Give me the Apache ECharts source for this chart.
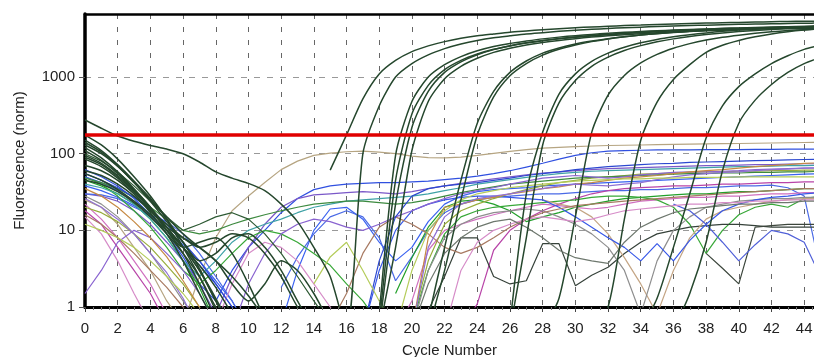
<!DOCTYPE html>
<html>
<head>
<meta charset="utf-8">
<script src="https://cdn.jsdelivr.net/npm/echarts@6/dist/echarts.min.js"></script>
<style>
  html, body { margin: 0; padding: 0; background: #fff; }
  #chart { width: 814px; height: 357px; }
</style>
</head>
<body>
<div id="chart"></div>
<script>
const _ = null;

// cycle numbers (x)
const cycles = [0,1,2,3,4,5,6,7,8,9,10,11,12,13,14,15,16,17,18,19,20,21,22,23,24,25,26,27,28,29,30,31,32,33,34,35,36,37,38,39,40,41,42,43,44,45];
const THRESHOLD = 175;
const xTicks = [0,2,4,6,8,10,12,14,16,18,20,22,24,26,28,30,32,34,36,38,40,42,44];
const yTicks = [1,10,100,1000];

// amplifying wells (dark green)
const dgA = [150,110,72,44,26,14,7,3.2,1.2,0.5, _,_,_,_,_,61,176,520,1100,1650, 2150,2550,2900,3200,3450,3650,3850,4000,4150,4280, 4400,4500,4600,4700,4780,4860,4930,5000,5060,5120, 5170,5220,5270,5310,5350,5380];
const dgB = [275,215,170,145,128,115,100,78,58,48, 41,33,22,13,6,2.5,0.5,100,420,1000, 1500,1950,2350,2700,3000,3250,3450,3650,3800,3950, 4080,4200,4300,4400,4480,4560,4630,4700,4760,4820, 4870,4920,4960,5000,5040,5070];
const dgC = [120,88,58,35,20,10,5,2,0.7,_, _,_,_,_,_,_,_,_,0.8,95, 480,1000,1450,1850,2200,2500,2750,2950,3150,3320, 3470,3600,3720,3830,3930,4020,4100,4180,4250,4320, 4380,4440,4490,4540,4580,4620];
const dgD = [95,75,52,33,19,10,6,7,8,5, 2,0.7,_,_,_,_,_,_,0.6,45, 330,780,1250,1650,2000,2300,2550,2780,2980,3150, 3300,3440,3570,3690,3800,3900,3990,4070,4140,4210, 4270,4330,4380,4430,4470,4510];
const dgE = [175,130,85,50,28,14,6,2.5,0.9,_, _,_,_,_,_,_,_,_,0.5,22, 220,650,1150,1580,1950,2280,2560,2800,3000,3180, 3340,3490,3620,3740,3850,3950,4040,4120,4200,4270, 4330,4390,4440,4490,4530,4570];
const dgF = [70,60,45,30,18,11,8,6,4,2, 1.2,2,4,3,1.5,0.6,_,_,0.5,6, 110,480,950,1380,1760,2100,2380,2620,2830,3010, 3170,3320,3450,3570,3680,3780,3870,3950,4020,4090, 4150,4200,4250,4290,4330,4360];
const dgG = [130,100,68,42,24,13,7,4,5,8, 9,6,3,1.2,0.5,_,_,_,_,_, _,0.7,6,45,250,650,1150,1620,2050,2400, 2700,2950,3170,3360,3530,3680,3820,3940,4050,4150, 4240,4320,4390,4460,4520,4570];
const dgH = [85,68,48,30,17,9,4,1.5,0.6,_, _,_,_,_,_,_,_,_,_,_, _,0.5,3,25,175,550,1040,1500,1930,2300, 2620,2900,3140,3350,3530,3690,3830,3960,4070,4170, 4260,4340,4410,4470,4520,4560];
const dgI = [110,82,55,34,20,11,6,3,1.2,0.5, _,_,_,_,_,_,_,_,_,_, _,_,_,_,_,_,0.6,30,190,600, 1100,1600,2050,2450,2800,3100,3350,3570,3770,3950, 4100,4250,4370,4480,4580,4660];
const dgJ = [60,52,40,28,18,12,8,6,7,9, 8,5,2.5,1,0.5,_,_,_,_,_, _,_,_,_,_,_,0.5,8,130,460, 900,1380,1820,2220,2570,2880,3150,3380,3580,3760, 3920,4060,4180,4290,4390,4470];
const dgK = [140,105,70,42,25,15,9,6,4,2.5, 1.4,0.7,_,_,_,_,_,_,_,_, _,_,_,_,_,_,_,_,0.5,1.3, 15,190,580,1050,1530,1980,2380,2730,3040,3300, 3520,3720,3890,4040,4150,4250];
const dgL = [90,72,50,32,19,11,6,3,1.3,0.5, _,_,_,_,_,_,_,_,_,_, _,_,_,_,_,_,_,_,_,_, _,0.5,1,14,150,470,930,1450,2100,2600, 3000,3350,3650,3900,4100,4260];
const dgM = [55,45,34,24,16,10,6,3.5,1.8,0.8, _,_,_,_,_,_,_,_,_,_, _,_,_,_,_,_,_,_,_,_, _,_,_,_,0.5,1.3,6,30,160,420, 750,1100,1500,1900,2300,2600];
const dgN = [45,40,32,23,15,9,5,2.5,1,0.5, _,_,_,_,_,_,_,_,_,_, _,_,_,_,_,_,_,_,_,_, _,_,_,_,_,_,0.5,1.5,7,60, 250,500,800,1150,1500,1800];

// non-amplifying wells
const tanA = [25,20,12,6,3,1.2,0.6,2.5,8,18, 28,42,62,80,95,102,106,108,105,100, 93,89,88,90,95,101,107,113,118,121, 124,126,128,129,130,131,132,133,134,135, 136,137,138,139,140,141];
const blueA = [62,50,38,26,16,9,4.5,2,1.2,3, 6,10,17,26,34,38,40,41,42,42, 43,44,46,48,51,55,60,67,75,85, 95,103,108,110,111,112,112,112,113,113, 113,114,114,115,115,115];
const purpleA = [30,28,24,18,12,7,4,2,0.8,2.5, 6,12,20,26,29,30,31,32,31,30, 32,35,38,41,44,47,50,53,56,58, 60,62,64,65,66,67,68,69,70,70, 71,72,72,73,74,74];
const blueB = [38,33,27,21,15,10,6.5,4,2.2,1.2, 0.5,_,0.6,3,10,19,20,14,7,4, 6,13,22,28,32,34,35,36,38,39, 40,41,42,43,44,45,46,47,48,49, 50,51,52,53,54,55];
const blueC = [30,29,26,20,16,13,9,5,2.5,1.2, 0.5,_,1.8,4.5,9,15,18,15,8,2.2, 4.5,10,17,22,25,27,28,29,30,30, 31,32,33,33,34,34,35,36,36,37, 38,38,39,36,28,3];
const pinkA = [22,14,8,4,2,0.8,_,_,_,_, _,_,_,_,_,_,_,_,_,0.5, 1.2,5.5,10,12,14,16,18,20,22,21, 20,19,20,22,24,25,26,27,27,28, 28,29,30,30,31,31];
const magentaA = [18,12,6,3,1.5,0.6,_,_,_,_, _,_,_,_,_,_,_,_,_,_, _,_,_,0.5,1.1,5.5,10,14,18,22, 26,30,33,35,36,37,38,38,39,40, 40,41,42,42,43,43];
const greenA = [45,38,30,22,14,8,4,1.8,0.6,_, _,_,_,_,_,_,_,_,_,1.5, 4.4,11,20,24,25,22,18,13,15,17, 20,22,24,26,27,28,29,30,30,31, 32,32,33,34,35,35];
const greenB = [50,40,28,18,11,6,3,2,3,5, 8,10,9,7,5,3.5,2,1.2,0.6,_, 0.6,3,9,15,18,20,21,22,23,24, 25,27,28,28,27,25,20,12,5,10, 16,20,22,20,26,28];
const grayM = [_,_,_,_,_,_,_,_,_,_, _,_,_,_,_,_,_,_,_,_, 0.5,0.9,2.5,8,8,2.5,2,2.2,6.7,6.7, 1.9,2.6,3.3,5,7,9,10,11,11.5,12, 12,11.5,11,11,11,11];
const grayV = [_,_,_,_,_,_,_,_,_,_, _,_,_,_,_,_,_,_,_,_, _,_,_,_,_,_,_,_,_,_, _,_,_,_,_,_,_,_,5,3.2, 2,11,11.5,12,12,12];
const tanV = [_,_,_,_,_,_,_,_,_,_, _,_,_,_,_,_,_,_,_,_, _,_,_,_,_,_,_,_,25,22, 20,15,9,4.4,2,0.8,3,8,14,18, 20,22,24,25,26,26];
const grayW = [28,22,15,9,5,2.5,1.2,0.6,_,_, _,_,_,_,_,_,_,_,_,_, 0.5,3,8,12,15,17,18,19,18,15, 12,9,6,3,0.8,4,10,15,20,22, 24,25,26,26,27,27];
const blueD = [50,42,33,24,16,10,6,3.5,2,1, 0.5,_,_,_,_,_,_,0.5,3,10, 18,22,25,27,28,28,27,26,25,20, 15,11,8,6,4,6.7,4,7.4,12,18, 22,25,27,28,30,31];
const blueE = [_,_,_,_,_,_,_,_,_,_, _,_,_,_,_,_,_,_,_,_, _,_,_,_,_,_,_,_,_,_, _,_,_,_,_,_,22,18,12,7, 4,6.5,10,9,7,2.5];
const oliveA = [20,17,13,9,6,3.5,2,1,0.5,_, _,_,_,_,_,_,_,_,_,_, 0.6,4,12,18,22,26,30,34,38,42, 45,48,50,52,54,55,56,57,58,58, 59,59,60,60,61,61];
const tealA = [40,36,30,22,14,8,4,2.5,4,7, 10,12,14,17,20,22,24,25,26,27, 28,30,33,36,40,43,46,49,52,55, 57,59,60,61,62,63,64,65,66,67, 68,68,69,70,70,71];
const greenC = [48,42,35,27,20,14,10,9,10,12, 14,16,18,20,22,23,24,24,23,22, 23,25,28,31,34,37,40,42,44,46, 48,49,50,51,52,53,54,55,55,56, 56,57,57,58,58,59];
const brownA = [16,12,8,5,3,1.8,1,0.6,_,_, _,_,_,_,_,0.6,1.5,5,11,15, 12,9,6,5,6,8,11,14,17,19, 21,22,23,24,25,26,27,28,29,30, 31,32,33,34,35,35];
const pinkB = [15,9,4,1.5,0.6,_,_,_,0.6,2, 5,7,6,4,2,1,0.5,_,_,_, _,_,0.5,3,7,10,12,14,15,14, 13,14,16,18,19,20,21,22,22,23, 23,24,24,25,25,25];
const purpleB = [1.5,3,7,10,8,5,3,1.5,0.6,0.5, 2,5,9,12,14,13,11,10,12,15, 18,22,26,30,33,36,40,44,48,50, 52,50,48,50,53,55,57,58,58,59, 60,62,63,64,65,65];
const dgNoise = [100,80,58,38,24,15,10,12,15,17, 14,9,5,2.5,1.2,0.6,_,_,_,_, _,_,_,_,_,_,_,_,_,_, _,_,_,_,_,_,_,_,_,_, _,_,_,_,_,_];
const grayG = [_,_,_,_,_,_,_,_,_,_, _,_,_,_,_,_,_,_,_,_, 0.5,2,5,8,11,13,14,11,8,5.5, 4.4,4,3.7,7,11,14,17,19,20,21, 22,22,23,23,24,24];
const orangeA = [35,28,20,13,8,4.5,2.2,1,0.5,_, _,_,_,_,_,_,_,_,_,_, 0.5,8,20,22,25,27,30,32,35,37, 40,42,45,48,50,52,55,58,60,62, 65,68,70,72,75,76];
const blueF = [55,45,36,27,19,12,7,4,2,1, 0.5,_,_,_,_,_,_,0.5,4,15, 28,35,38,40,42,45,48,52,55,58, 62,65,68,70,72,74,75,77,78,79, 80,81,82,83,84,85];
const purpleC = [26,20,14,9,5,2.8,1.3,0.5,_,_, _,_,_,_,_,_,_,_,_,_, 0.5,6,15,22,26,28,30,33,35,38, 40,39,38,40,42,46,50,53,55,57, 58,60,62,63,65,66];
const limeA = [12,10,8,6,4,2.5,1.5,0.8,_,_, _,_,_,_,2,4.5,7,3,1.2,0.5, 3,10,18,25,30,33,36,38,40,42, 44,45,46,47,47,48,48,49,49,49, 50,50,50,50,50,50];

const DG = "#25472d";
const noise = [
  [tanA, "#b6a582"], [blueA, "#3050e0"], [purpleA, "#7a58c8"], [blueB, "#3a62f0"],
  [blueC, "#4a6ae6"], [pinkA, "#d070c0"], [magentaA, "#b844a8"], [greenA, "#22a02a"],
  [greenB, "#38a838"], [grayM, "#36423a"], [grayV, "#3c463c"], [tanV, "#c4a584"],
  [grayW, "#8e8e8e"], [blueD, "#3858e8"], [blueE, "#5060d8"], [oliveA, "#98ac3c"],
  [tealA, "#3fa2a6"], [greenC, "#3d8a3f"], [brownA, "#a87a62"], [pinkB, "#d68cc8"],
  [purpleB, "#8a64d0"], [dgNoise, "#2e5a34"], [grayG, "#6e786e"], [orangeA, "#c68a44"],
  [blueF, "#2c48d0"], [purpleC, "#9070d4"], [limeA, "#b4cc5a"]
];
const amplified = [dgA, dgB, dgC, dgD, dgE, dgF, dgG, dgH, dgI, dgJ, dgK, dgL, dgM, dgN];

const XMAX = 44.6;
const YMAX = 6650;
const FONT = "'Liberation Sans', Arial, sans-serif";

const toPoints = (vals) => cycles.map((c, i) => [c, vals[i]]);

const series = [];
noise.forEach(([vals, color]) => {
  series.push({
    type: "line", data: toPoints(vals), showSymbol: false, silent: true,
    lineStyle: { color, width: 1.2 }, z: 2
  });
});
amplified.forEach((vals) => {
  series.push({
    type: "line", data: toPoints(vals), showSymbol: false, silent: true, smooth: 0.25,
    lineStyle: { color: DG, width: 1.5 }, z: 3
  });
});
series.push({
  type: "line", data: [], silent: true, z: 4,
  markLine: {
    silent: true, symbol: "none", label: { show: false },
    lineStyle: { color: "#e00000", width: 3.5, type: "solid" },
    data: [{ yAxis: THRESHOLD }]
  }
});

const chart = echarts.init(document.getElementById("chart"));
chart.setOption({
  animation: false,
  textStyle: { fontFamily: FONT },
  grid: { left: 85, right: 0, top: 14, bottom: 50, outerBoundsMode: "none", containLabel: false },
  xAxis: [
    {
      type: "value", min: 0, max: XMAX, interval: 2,
      name: "Cycle Number", nameLocation: "middle", nameGap: 36,
      nameTextStyle: { fontSize: 15, color: "#222", fontFamily: FONT },
      axisLine: { lineStyle: { color: "#000", width: 3 } },
      axisTick: { length: 5, lineStyle: { color: "#444" } },
      minorTick: { show: true, splitNumber: 4, length: 3, lineStyle: { color: "#777" } },
      axisLabel: {
        fontSize: 15, color: "#222", margin: 14, showMaxLabel: false, fontFamily: FONT,
        formatter: (v) => (xTicks.includes(v) ? String(v) : "")
      },
      splitLine: { show: true, lineStyle: { color: "#666", width: 1, type: [5, 8] } }
    },
    {
      type: "value", position: "top", min: 0, max: XMAX,
      axisLine: { show: true, lineStyle: { color: "#000", width: 2.5 } },
      axisTick: { show: false }, axisLabel: { show: false }, splitLine: { show: false }
    }
  ],
  yAxis: {
    type: "log", logBase: 10, min: 1, max: YMAX,
    name: "Fluorescence (norm)", nameLocation: "middle", nameGap: 58,
    nameTextStyle: { fontSize: 15, color: "#222", fontFamily: FONT },
    axisLine: { show: true, lineStyle: { color: "#000", width: 3.5 } },
    axisTick: { show: true, length: 6, lineStyle: { color: "#555" } },
    axisLabel: {
      fontSize: 15, color: "#222", margin: 10, showMaxLabel: false, fontFamily: FONT,
      formatter: (v) => (yTicks.includes(Math.round(v)) ? String(Math.round(v)) : "")
    },
    splitLine: { show: true, lineStyle: { color: "#999", width: 1, type: [6, 7] } }
  },
  series
});
</script>
</body>
</html>
